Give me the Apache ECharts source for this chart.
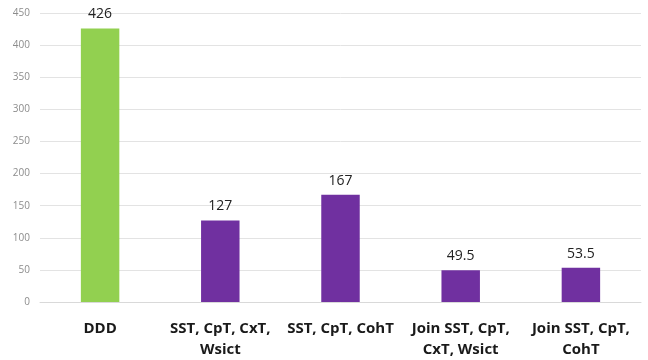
<!DOCTYPE html>
<html>
<head>
<meta charset="utf-8">
<script src="https://cdn.jsdelivr.net/npm/echarts@6/dist/echarts.min.js"></script>
<style>
  html, body { margin: 0; padding: 0; background: #fff; }
  #chart { width: 648px; height: 360px; }
</style>
</head>
<body>
<div id="chart"></div>
<script>
// Category names (line breaks as shown under the axis)
const categories = [
  'DDD',
  'SST, CpT, CxT,\nWsict',
  'SST, CpT, CohT',
  'Join SST, CpT,\nCxT, Wsict',
  'Join SST, CpT,\nCohT'
];
const values = [426, 127, 167, 49.5, 53.5];
const barColors = ['#92D050', '#7030A0', '#7030A0', '#7030A0', '#7030A0'];
const yTicks = [0, 50, 100, 150, 200, 250, 300, 350, 400, 450];

const chart = echarts.init(document.getElementById('chart'), null, { renderer: 'canvas' });
chart.setOption({
  animation: false,
  grid: { left: 40, right: 7, top: 13, bottom: 57, containLabel: false },
  xAxis: {
    type: 'category',
    data: categories,
    axisLine: { show: true, lineStyle: { color: '#d9d9d9', width: 1 } },
    axisTick: { show: false },
    axisLabel: {
      interval: 0,
      margin: 16,
      fontFamily: 'Open Sans',
      fontWeight: 'bold',
      fontSize: 15,
      lineHeight: 21,
      color: '#1a1a1a'
    }
  },
  yAxis: {
    type: 'value',
    min: yTicks[0],
    max: yTicks[yTicks.length - 1],
    interval: 50,
    axisLine: { show: false },
    axisTick: { show: false },
    splitLine: { lineStyle: { color: '#e3e3e3', width: 1 } },
    axisLabel: {
      margin: 10,
      fontFamily: 'Open Sans',
      fontSize: 10,
      color: '#8c8c8c'
    }
  },
  series: [{
    type: 'bar',
    barWidth: '32%',
    data: values.map((v, i) => ({ value: v, itemStyle: { color: barColors[i] } })),
    label: {
      show: true,
      position: 'top',
      distance: 7,
      fontFamily: 'Open Sans',
      fontSize: 14,
      color: '#222'
    }
  }]
});
</script>
</body>
</html>
